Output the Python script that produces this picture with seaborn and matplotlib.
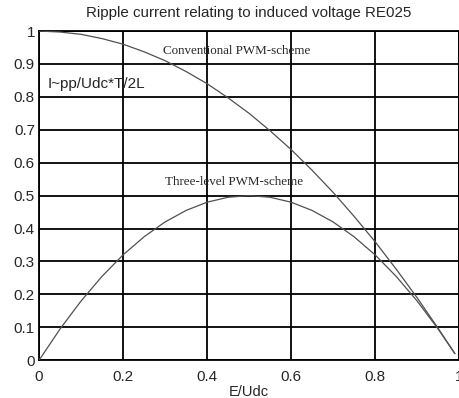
import matplotlib
matplotlib.use("Agg")
import matplotlib.pyplot as plt
import seaborn as sns
import pandas as pd

# values
e_udc = [0, 0.05, 0.1, 0.15, 0.2, 0.25, 0.3, 0.35, 0.4, 0.45, 0.5,
         0.55, 0.6, 0.65, 0.7, 0.75, 0.8, 0.85, 0.9, 0.95, 0.99]
conventional = [1.0, 0.997, 0.99, 0.977, 0.96, 0.937, 0.91, 0.877, 0.84,
                0.797, 0.75, 0.697, 0.64, 0.577, 0.51, 0.437, 0.36, 0.277,
                0.19, 0.097, 0.02]
three_level = [0.0, 0.095, 0.18, 0.255, 0.32, 0.375, 0.42, 0.455, 0.48,
               0.495, 0.5, 0.495, 0.48, 0.455, 0.42, 0.375, 0.32, 0.255,
               0.18, 0.095, 0.02]
x_ticks = [0, 0.2, 0.4, 0.6, 0.8, 1]
x_tick_labels = ["0", "0.2", "0.4", "0.6", "0.8", "1"]
y_ticks = [0, 0.1, 0.2, 0.3, 0.4, 0.5, 0.6, 0.7, 0.8, 0.9, 1]
y_tick_labels = ["0", "0.1", "0.2", "0.3", "0.4", "0.5", "0.6", "0.7",
                 "0.8", "0.9", "1"]

sns.set_style("white")
plt.rcParams['font.family'] = ['Liberation Sans', 'DejaVu Sans']

df = pd.DataFrame({"E/Udc": e_udc * 2,
                   "ripple": conventional + three_level,
                   "scheme": ["Conventional"] * len(e_udc)
                   + ["Three-level"] * len(e_udc)})

fig = plt.figure(figsize=(4.6, 3.98), dpi=100)
ax = fig.add_axes([0.085, 0.095, 0.913, 0.827])

# grid first so curves sit on top
for v in x_ticks:
    ax.axvline(v, color="black", lw=1.3, zorder=1)
for v in y_ticks:
    ax.axhline(v, color="black", lw=1.3, zorder=1)

sns.lineplot(data=df, x="E/Udc", y="ripple", hue="scheme",
             palette=["#505050", "#505050"], linewidth=0.9,
             legend=False, ax=ax, zorder=3)

ax.set_xlim(0, 1)
ax.set_ylim(0, 1)
ax.set_xticks(x_ticks)
ax.set_xticklabels(x_tick_labels)
ax.set_yticks(y_ticks)
ax.set_yticklabels(y_tick_labels)
ax.tick_params(axis="y", labelsize=11, length=0, pad=3)
ax.tick_params(axis="x", labelsize=11, length=0, pad=7)
for s in ax.spines.values():
    s.set_color("black")
    s.set_linewidth(1.3)

ax.set_xlabel("E/Udc", fontsize=10.5, labelpad=1)
ax.set_ylabel("")
ax.set_title("Ripple current relating to induced voltage RE025",
             fontsize=10.9, pad=10)

ax.text(0.47, 0.94, "Conventional PWM-scheme", family="Liberation Serif",
        fontsize=9.4, ha="center", va="center", zorder=4)
ax.text(0.465, 0.54, "Three-level PWM-scheme", family="Liberation Serif",
        fontsize=9.4, ha="center", va="center", zorder=4)
ax.text(0.02, 0.84, "I~pp/Udc*T/2L", fontsize=11, ha="left", va="center",
        zorder=4)

plt.savefig("out.png", dpi=100)
